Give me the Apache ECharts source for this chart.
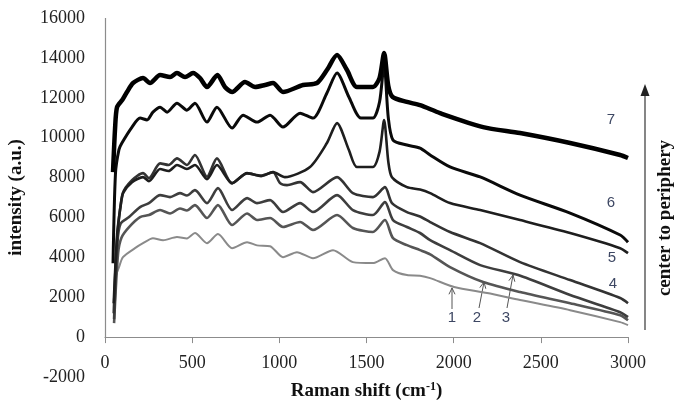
<!DOCTYPE html>
<html>
<head>
<meta charset="utf-8">
<script src="https://cdn.jsdelivr.net/npm/echarts@6/dist/echarts.min.js"></script>
<style>
html,body{margin:0;padding:0;background:#fff;}
#c{width:676px;height:403px;}
</style>
</head>
<body>
<div id="c"></div>
<script>
// ---- data ----
const yTicks = [-2000, 0, 2000, 4000, 6000, 8000, 10000, 12000, 14000, 16000];
const xTicks = [0, 500, 1000, 1500, 2000, 2500, 3000];
const seriesNames = ['1', '2', '3', '4', '5', '6', '7'];

const spec7 = [[46,8270],[58,10500],[69,11530],[100,11900],[126,12290],[161,12740],[218,12990],[258,12740],[316,13140],[373,13040],[413,13240],[459,13040],[505,13240],[545,12990],[585,12540],[645,13140],[688,12540],[729,12290],[803,12790],[861,12540],[918,12640],[964,12740],[1021,12290],[1136,12640],[1216,12740],[1273,13390],[1331,14140],[1388,13390],[1445,12540],[1537,12540],[1575,13000],[1601,14240],[1625,12600],[1650,12040],[1732,11790],[1807,11630],[1922,11230],[2169,10530],[2381,10230],[2668,9730],[2955,9130],[3000,8980]];
const spec6 = [[46,3700],[60,8200],[80,9400],[97,9730],[155,10530],[201,10980],[241,10890],[275,11280],[316,11530],[356,11280],[413,11730],[470,11380],[516,11730],[585,10780],[642,11530],[729,10480],[792,11130],[872,10780],[947,11130],[1021,10530],[1119,11230],[1193,10980],[1273,12240],[1331,13240],[1399,12040],[1468,10980],[1537,10980],[1575,11800],[1601,13700],[1625,11000],[1652,9880],[1732,9630],[1807,9480],[1865,9130],[1979,8530],[2152,8030],[2381,7120],[2668,6220],[2955,5120],[3000,4760]];
const spec5 = [[50,1700],[70,5200],[90,6600],[103,7220],[155,7770],[218,8020],[252,7820],[316,8430],[365,8330],[413,8630],[470,8430],[516,8630],[585,7920],[642,8630],[729,7720],[815,8220],[895,8070],[964,8270],[1032,8020],[1176,8530],[1273,9730],[1331,10730],[1399,9380],[1445,8530],[1537,8530],[1575,9300],[1601,10880],[1625,8800],[1646,8020],[1732,7520],[1807,7400],[1865,7220],[1979,6720],[2152,6370],[2381,5870],[2668,5220],[2955,4460],[3000,4210]];
const spec4 = [[50,1200],[70,5000],[103,7220],[155,7870],[218,8220],[252,7970],[316,8710],[365,8630],[413,8960],[470,8630],[516,9130],[585,8040],[642,8960],[729,7710],[815,8210],[895,8100],[964,8270],[1004,7720],[1044,7620],[1119,7770],[1193,7270],[1331,8020],[1422,7220],[1537,7020],[1606,7520],[1646,6720],[1732,6270],[1807,6050],[1865,5770],[1979,5270],[2152,4710],[2381,3760],[2668,2860],[2955,1960],[3000,1700]];
const spec3 = [[52,900],[72,4800],[90,5700],[138,6020],[201,6520],[252,6720],[316,7120],[373,7020],[430,7220],[470,7100],[516,7370],[585,6720],[648,7470],[729,6370],[815,6970],[872,6720],[947,6870],[1021,6270],[1119,6720],[1193,6270],[1331,7120],[1422,6370],[1537,6120],[1606,6770],[1652,5870],[1732,5520],[1807,5220],[1865,4860],[1979,4360],[2152,3610],[2370,3110],[2668,2110],[2955,1250],[3000,1000]];
const spec2 = [[52,700],[75,4200],[95,5000],[138,5520],[201,6020],[252,6120],[316,6370],[373,6200],[430,6450],[470,6350],[516,6620],[585,5970],[648,6620],[729,5620],[815,6200],[872,5870],[947,5970],[1021,5520],[1119,5770],[1193,5370],[1331,6120],[1422,5470],[1537,5270],[1606,5870],[1652,4960],[1732,4610],[1807,4360],[1865,4150],[1979,3510],[2169,2760],[2381,2260],[2668,1700],[2955,1100],[3000,850]];
const spec1 = [[58,3000],[80,3500],[103,4010],[172,4460],[218,4710],[275,4960],[333,4860],[413,5020],[470,4950],[516,5220],[585,4710],[648,5170],[729,4460],[815,4760],[872,4600],[947,4560],[1021,4010],[1101,4260],[1193,3960],[1308,4360],[1422,3760],[1537,3710],[1606,3960],[1652,3360],[1732,3110],[1807,3080],[1865,2960],[2003,2510],[2192,2210],[2381,1860],[2668,1350],[2955,750],[3000,600]];

const spectra = [spec1, spec2, spec3, spec4, spec5, spec6, spec7];

// ---- styles ----
const lineColors = ['#8a8a8a', '#555555', '#3e3e3e', '#333333', '#1e1e1e', '#0a0a0a', '#000000'];
const lineWidths = [2, 2.6, 2.6, 2.6, 2.6, 3, 4.5];
const serif = '"Liberation Serif", "DejaVu Serif", serif';
const labelColor = '#3d4763';
const axisGray = '#8c8c8c';

const chart = echarts.init(document.getElementById('c'));

const series = spectra.map((d, i) => ({
  name: seriesNames[i],
  type: 'line',
  data: d,
  showSymbol: false,
  smooth: 0.25,
  z: 2 + i,
  lineStyle: { color: lineColors[i], width: lineWidths[i] },
  animation: false
}));
// vertical axis line drawn from 0 up to the top of the value range
series[0].markLine = {
  silent: true, symbol: 'none', animation: false,
  label: { show: false },
  lineStyle: { color: axisGray, width: 1.2, type: 'solid' },
  data: [[{ coord: [xTicks[0], 0] }, { coord: [xTicks[0], yTicks[yTicks.length - 1]] }]]
};

function arrowUp(x1, y1, x2, y2) {
  const ang = Math.atan2(y2 - y1, x2 - x1);
  const L = 7, a = 0.45;
  const h1 = [x2 - L * Math.cos(ang - a), y2 - L * Math.sin(ang - a)];
  const h2 = [x2 - L * Math.cos(ang + a), y2 - L * Math.sin(ang + a)];
  return [
    { type: 'line', shape: { x1, y1, x2, y2 }, style: { stroke: '#555', lineWidth: 1 } },
    { type: 'polyline', shape: { points: [h1, [x2, y2], h2] }, style: { stroke: '#555', lineWidth: 1, fill: null } }
  ];
}

function numLabel(txt, x, y) {
  return { type: 'text', x, y, style: { text: txt, font: '15px "Liberation Sans", Arial, sans-serif', fill: labelColor, align: 'center', verticalAlign: 'middle' } };
}

const graphics = [
  numLabel('7', 611, 120),
  numLabel('6', 611, 203),
  numLabel('5', 612, 258),
  numLabel('4', 613, 284),
  numLabel('1', 452, 318),
  numLabel('2', 477, 318),
  numLabel('3', 506, 318),
  ...arrowUp(452, 309, 452, 288),
  ...arrowUp(479, 308, 484, 282),
  ...arrowUp(507, 308, 513, 275),
  { type: 'line', shape: { x1: 645, y1: 330, x2: 645, y2: 92 }, style: { stroke: '#444', lineWidth: 1.3 } },
  { type: 'polygon', shape: { points: [[640.5, 96], [649.5, 96], [645, 84]] }, style: { fill: '#222' } },
  { type: 'text', x: 665, y: 218, rotation: Math.PI / 2,
    style: { text: 'center to periphery', font: 'bold 19px ' + serif, fill: '#111', align: 'center', verticalAlign: 'middle' } }
];

chart.setOption({
  animation: false,
  backgroundColor: '#ffffff',
  grid: { left: 105, right: 48, top: 18, bottom: 26, containLabel: false, outerBoundsMode: 'none' },
  xAxis: {
    type: 'value',
    min: xTicks[0], max: xTicks[xTicks.length - 1], interval: 500,
    offset: -39.9,
    axisLine: { onZero: false, lineStyle: { color: axisGray, width: 1.2 } },
    axisTick: { show: true, length: 6, lineStyle: { color: axisGray } },
    splitLine: { show: false },
    axisLabel: { color: '#222', fontFamily: serif, fontSize: 18, margin: 17, formatter: v => String(v) },
    name: '{a|Raman shift (cm}{b|-1}{a|)}',
    nameLocation: 'middle',
    nameGap: 44,
    nameTextStyle: {
      rich: {
        a: { fontFamily: serif, fontWeight: 'bold', fontSize: 19, color: '#111' },
        b: { fontFamily: serif, fontWeight: 'bold', fontSize: 12, color: '#111', verticalAlign: 'top', padding: [0, 0, 8, 0] }
      }
    }
  },
  yAxis: {
    type: 'value',
    min: yTicks[0], max: yTicks[yTicks.length - 1], interval: 2000,
    axisLine: { show: false },
    axisTick: { show: false },
    splitLine: { show: false },
    axisLabel: { color: '#222', fontFamily: serif, fontSize: 18, margin: 20, formatter: v => String(v) },
    name: 'intensity (a.u.)',
    nameLocation: 'middle',
    nameGap: 79,
    nameTextStyle: { fontFamily: serif, fontWeight: 'bold', fontSize: 19, color: '#111' }
  },
  series,
  graphic: graphics
});
</script>
</body>
</html>
